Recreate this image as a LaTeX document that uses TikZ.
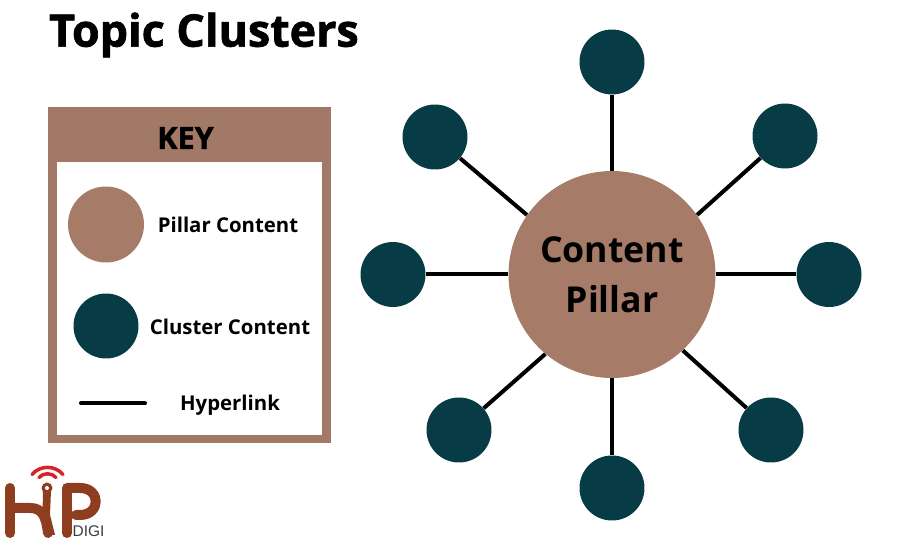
\documentclass[tikz,border=0pt]{standalone}
\usepackage{fontspec}
\setmainfont{Open Sans}
\newfontfamily\heavyfont{Open Sans}[BoldFeatures={FakeBold=1.5}]
\newfontfamily\logofont{Liberation Sans}
\usetikzlibrary{positioning}
\definecolor{pillarbrown}{HTML}{A67B68}
\definecolor{keybrown}{HTML}{A27866}
\definecolor{clusterteal}{HTML}{073B46}
\definecolor{logobrown}{HTML}{8E3D1E}
\definecolor{logored}{HTML}{DB2128}
\definecolor{logogray}{HTML}{3C3C3C}
\tikzset{
  pillar/.style={circle, fill=pillarbrown, inner sep=0pt, minimum size=4.14cm},
  cluster/.style={circle, fill=clusterteal, inner sep=0pt, minimum size=1.3cm},
  link/.style={line width=.08cm, black},
  keytext/.style={font=\fontsize{11.6pt}{14pt}\selectfont\bfseries, inner sep=0pt},
  logostroke/.style={line width=.2cm, logobrown, line cap=round, line join=round}
}
\begin{document}
\begin{tikzpicture}[x=.02cm, y=-.02cm]
\useasboundingbox (0,0) rectangle (900,540);
\fill[white] (0,0) rectangle (900,540);

\node [font=\fontsize{25.5pt}{28pt}\heavyfont\bfseries, inner sep=0pt] (title) at (204,35) {Topic Clusters};

% key panel
\node [fill=keybrown, minimum width=5.66cm, minimum height=6.72cm, inner sep=0pt] (keybox) at (189.5,275) {};
\node [fill=white, minimum width=5.3cm, minimum height=5.46cm, inner sep=0pt] (keyinner) at (189.5,298.5) {};
\node [font=\fontsize{17.4pt}{18pt}\heavyfont\bfseries, inner sep=0pt] (keytitle) at (185.5,138) {KEY};

\node [pillar, minimum size=1.52cm] (keypillar) at (106,224.5) {};
\node [cluster] (keycluster) at (106,326) {};
\coordinate (keya) at (81,403.5);
\coordinate (keyb) at (145,403.5);
\draw[link, line cap=round] (keya) -- (keyb);

\node [keytext] (pillarlabel) at (228,225) {Pillar Content};
\node [keytext] (clusterlabel) at (230,327) {Cluster Content};
\node [keytext] (linklabel) at (230,405) {Hyperlink};

% hub and spokes
\node [pillar, font=\fontsize{20.3pt}{28.5pt}\selectfont\bfseries, align=center] (hub) at (612,274.5) {Content\\Pillar};
\node [cluster] (c1) at (612,62) {};
\node [cluster] (c2) at (785,136) {};
\node [cluster] (c3) at (829,274.5) {};
\node [cluster] (c4) at (771,430) {};
\node [cluster] (c5) at (612,488) {};
\node [cluster] (c6) at (459,430) {};
\node [cluster] (c7) at (393,274.5) {};
\node [cluster] (c8) at (435,137) {};

\draw[link] (hub.90) -- (c1);
\draw[link] (hub.35) -- (c2);
\draw[link] (hub.0) -- (c3);
\draw[link] (hub.-47) -- (c4);
\draw[link] (hub.-90) -- (c5);
\draw[link] (hub.-130) -- (c6);
\draw[link] (hub.180) -- (c7);
\draw[link] (hub.145) -- (c8);

% logo
\draw[logostroke] (10,488) -- (10,533);
\draw[logostroke] (10,508) -- (30,508) .. controls (42,508) and (46,516) .. (48,533);
\fill[logobrown] (43,490) -- (51,490) -- (50,515) -- (55,535) -- (45,535) -- (42.5,515) -- cycle;
\fill[logobrown] (47,488) circle (5.5);
\fill[white] (47,488) circle (2);
\draw[logostroke] (67,533) -- (67,488) -- (80,488) .. controls (101,488) and (101,515) .. (80,515) -- (76,515);
\draw[logored, line width=.07cm, line cap=round] (39,477.5) .. controls (43,472.5) and (52,472.5) .. (56,477.5);
\draw[logored, line width=.07cm, line cap=round] (32,474.5) .. controls (40,465) and (55,465) .. (63,474.5);
\node [font=\logofont\fontsize{8.8pt}{10pt}\selectfont, text=logogray, inner sep=0pt] (logotext) at (88.5,531.5) {DIGI};
\end{tikzpicture}
\end{document}
